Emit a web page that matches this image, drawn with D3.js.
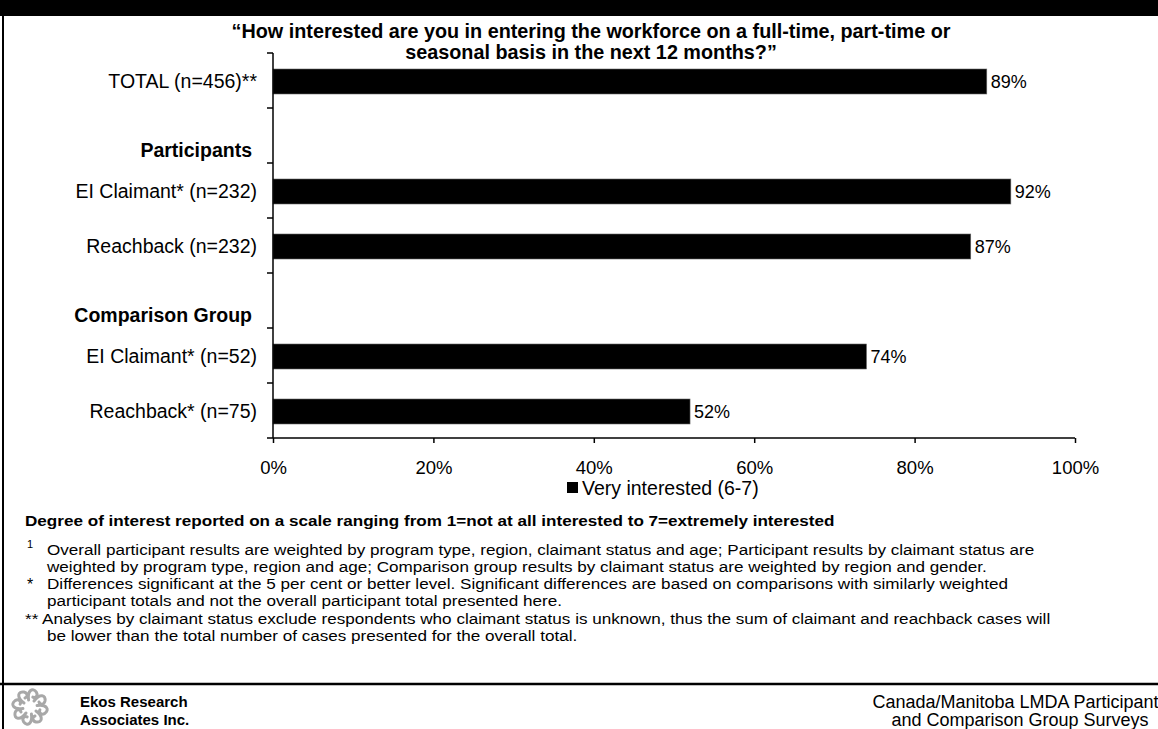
<!DOCTYPE html>
<html>
<head>
<meta charset="utf-8">
<script src="https://cdn.jsdelivr.net/npm/d3@7/dist/d3.min.js"></script>
<style>
  html, body { margin: 0; padding: 0; background: #fff; }
  svg { display: block; font-family: "Liberation Sans", Arial, sans-serif; }
</style>
</head>
<body>
<svg id="chart" width="1158" height="729"></svg>
<script>
// Row labels (top to bottom); header rows carry no bar
const categories = [
  "TOTAL (n=456)**",
  "Participants",
  "EI Claimant* (n=232)",
  "Reachback (n=232)",
  "Comparison Group",
  "EI Claimant* (n=52)",
  "Reachback* (n=75)"
];
const headerRows = ["Participants", "Comparison Group"];
// Share "very interested (6-7)", per cent; null = header row
const veryInterested = [89, null, 92, 87, null, 74, 52];
const xTicks = [0, 20, 40, 60, 80, 100];
const seriesName = "Very interested (6-7)";

const titleLines = [
  "\u201CHow interested are you in entering the workforce on a full-time, part-time or",
  "seasonal basis in the next 12 months?\u201D"
];
const scaleNote = "Degree of interest reported on a scale ranging from 1=not at all interested to 7=extremely interested";
const notes = [
  { mark: "1", sup: true, lines: [
    "Overall participant results are weighted by program type, region, claimant status and age; Participant results by claimant status are",
    "weighted by program type, region and age; Comparison group results by claimant status are weighted by region and gender."] },
  { mark: "*", sup: false, lines: [
    "Differences significant at the 5 per cent or better level.  Significant differences are based on comparisons with similarly weighted",
    "participant totals and not the overall participant total presented here."] },
  { mark: "**", sup: false, inline: true, lines: [
    "Analyses by claimant status exclude respondents who claimant status is unknown, thus the sum of claimant and reachback cases will",
    "be lower than the total number of cases presented for the overall total."] }
];
const orgLines = ["Ekos Research", "Associates Inc."];
const reportLines = ["Canada/Manitoba LMDA Participants", "and Comparison Group Surveys"];

const svg = d3.select("#chart");
const W = 1158, H = 729;
const bandH = 16;

// Page frame
svg.append("rect").attr("x", 0).attr("y", 0).attr("width", W).attr("height", bandH).attr("fill", "#000");
svg.append("line").attr("x1", 3).attr("x2", 3).attr("y1", bandH).attr("y2", H)
  .attr("stroke", "#000").attr("stroke-width", 2);
svg.append("line").attr("x1", 0).attr("x2", W).attr("y1", 684).attr("y2", 684)
  .attr("stroke", "#000").attr("stroke-width", 2.5);

// Question title
svg.append("g").selectAll("text").data(titleLines).join("text")
  .attr("x", 591).attr("y", (d, i) => 31 + i * 21)
  .attr("dy", "0.35em").attr("text-anchor", "middle")
  .attr("font-size", 19.8).attr("font-weight", "bold").text(d => d);

// Plot area
const plot = { left: 273, right: 1075, top: 53, bottom: 438 };
const x = d3.scaleLinear().domain([0, 100]).range([plot.left, plot.right]);
const y = d3.scaleBand().domain(categories).range([plot.top, plot.bottom]).paddingInner(0).paddingOuter(0);
const barH = 25;

// Bars
const rows = categories.map((c, i) => ({ cat: c, v: veryInterested[i] }));
const barRows = rows.filter(r => r.v !== null);
svg.append("g").selectAll("rect").data(barRows).join("rect")
  .attr("x", x(0)).attr("y", d => y(d.cat) + y.bandwidth() / 2 - barH / 2 + 1)
  .attr("width", d => x(d.v) - x(0)).attr("height", barH)
  .attr("fill", "#000").attr("stroke", "#666").attr("stroke-width", 0.6);

// Value labels
svg.append("g").selectAll("text").data(barRows).join("text")
  .attr("x", d => x(d.v) + 4).attr("y", d => y(d.cat) + y.bandwidth() / 2 + 1)
  .attr("dy", "0.35em").attr("font-size", 18).text(d => d.v + "%");

// Category axis: ticks at band boundaries
const yAxis = svg.append("g");
yAxis.append("line").attr("x1", plot.left).attr("x2", plot.left)
  .attr("y1", plot.top).attr("y2", plot.bottom).attr("stroke", "#000").attr("stroke-width", 1.5);
yAxis.selectAll("line.tk").data(categories.map(c => y(c)).concat([plot.bottom])).join("line")
  .attr("class", "tk").attr("x1", plot.left - 6).attr("x2", plot.left)
  .attr("y1", d => d).attr("y2", d => d).attr("stroke", "#000").attr("stroke-width", 1.5);
yAxis.selectAll("text").data(categories).join("text")
  .attr("x", d => headerRows.includes(d) ? plot.left - 21 : plot.left - 16)
  .attr("y", d => y(d) + y.bandwidth() / 2 + (headerRows.includes(d) ? 15 : 1))
  .attr("dy", "0.35em").attr("text-anchor", "end")
  .attr("font-size", 19.5)
  .attr("font-weight", d => headerRows.includes(d) ? "bold" : "normal")
  .text(d => d);

// Value axis
const xAxis = svg.append("g").attr("transform", `translate(0,${plot.bottom})`)
  .call(d3.axisBottom(x).tickValues(xTicks).tickSize(5).tickPadding(18).tickFormat(d => d + "%"));
xAxis.select(".domain").attr("stroke", "#000").attr("stroke-width", 1.5)
  .attr("d", `M${plot.left},0H${plot.right}`);
xAxis.selectAll(".tick line").attr("stroke", "#000").attr("stroke-width", 1.5);
xAxis.selectAll(".tick text").attr("font-size", 18.5).attr("font-family", "Liberation Sans, Arial, sans-serif")
  .attr("fill", "#000");

// Legend
const legend = svg.append("g").attr("transform", "translate(567,488)");
legend.append("rect").attr("x", 0).attr("y", -6).attr("width", 11).attr("height", 11).attr("fill", "#000");
legend.append("text").attr("x", 15).attr("y", 0).attr("dy", "0.35em")
  .attr("font-size", 19.5).text(seriesName);

// Notes: compact type, widened horizontally
const noteScale = 1.14;
const placeText = (sel, px, py) => sel.attr("transform", `translate(${px},${py}) scale(${noteScale},1)`);
placeText(svg.append("text").attr("dy", "0.35em")
  .attr("font-size", 15).attr("font-weight", "bold").text(scaleNote), 25, 521);
const noteTop = [550, 584, 619];
const noteG = svg.append("g").attr("font-size", 15);
notes.forEach((n, i) => {
  const y0 = noteTop[i];
  if (n.sup) {
    noteG.append("text").attr("x", 27).attr("y", y0 - 6).attr("dy", "0.35em")
      .attr("font-size", 11).text(n.mark);
  } else if (!n.inline) {
    noteG.append("text").attr("x", 27).attr("y", y0).attr("dy", "0.35em").attr("font-size", 16).text(n.mark);
  }
  n.lines.forEach((l, j) => {
    const t = n.inline && j === 0 ? n.mark + " " + l : l;
    placeText(noteG.append("text").attr("dy", "0.35em").text(t),
      n.inline && j === 0 ? 25 : 47, y0 + j * 17);
  });
});

// Footer logo: ring of curled gray strokes
const logo = svg.append("g").attr("transform", "translate(30,707)");
d3.range(8).forEach(k => {
  logo.append("path")
    .attr("d", "M4,-6 C10,-14 16,-12 15,-6 C14,-2 10,-2 9,-5")
    .attr("transform", `rotate(${k * 45})`)
    .attr("fill", "none").attr("stroke", "#a8a8a8").attr("stroke-width", 3)
    .attr("stroke-linecap", "round");
});

svg.append("g").selectAll("text").data(orgLines).join("text")
  .attr("x", 80).attr("y", (d, i) => 702 + i * 18).attr("dy", "0.35em")
  .attr("font-size", 15).attr("font-weight", "bold").text(d => d);
svg.append("g").selectAll("text").data(reportLines).join("text")
  .attr("x", 1020).attr("y", (d, i) => 702 + i * 18).attr("dy", "0.35em")
  .attr("text-anchor", "middle").attr("font-size", 18).text(d => d);
</script>
</body>
</html>
